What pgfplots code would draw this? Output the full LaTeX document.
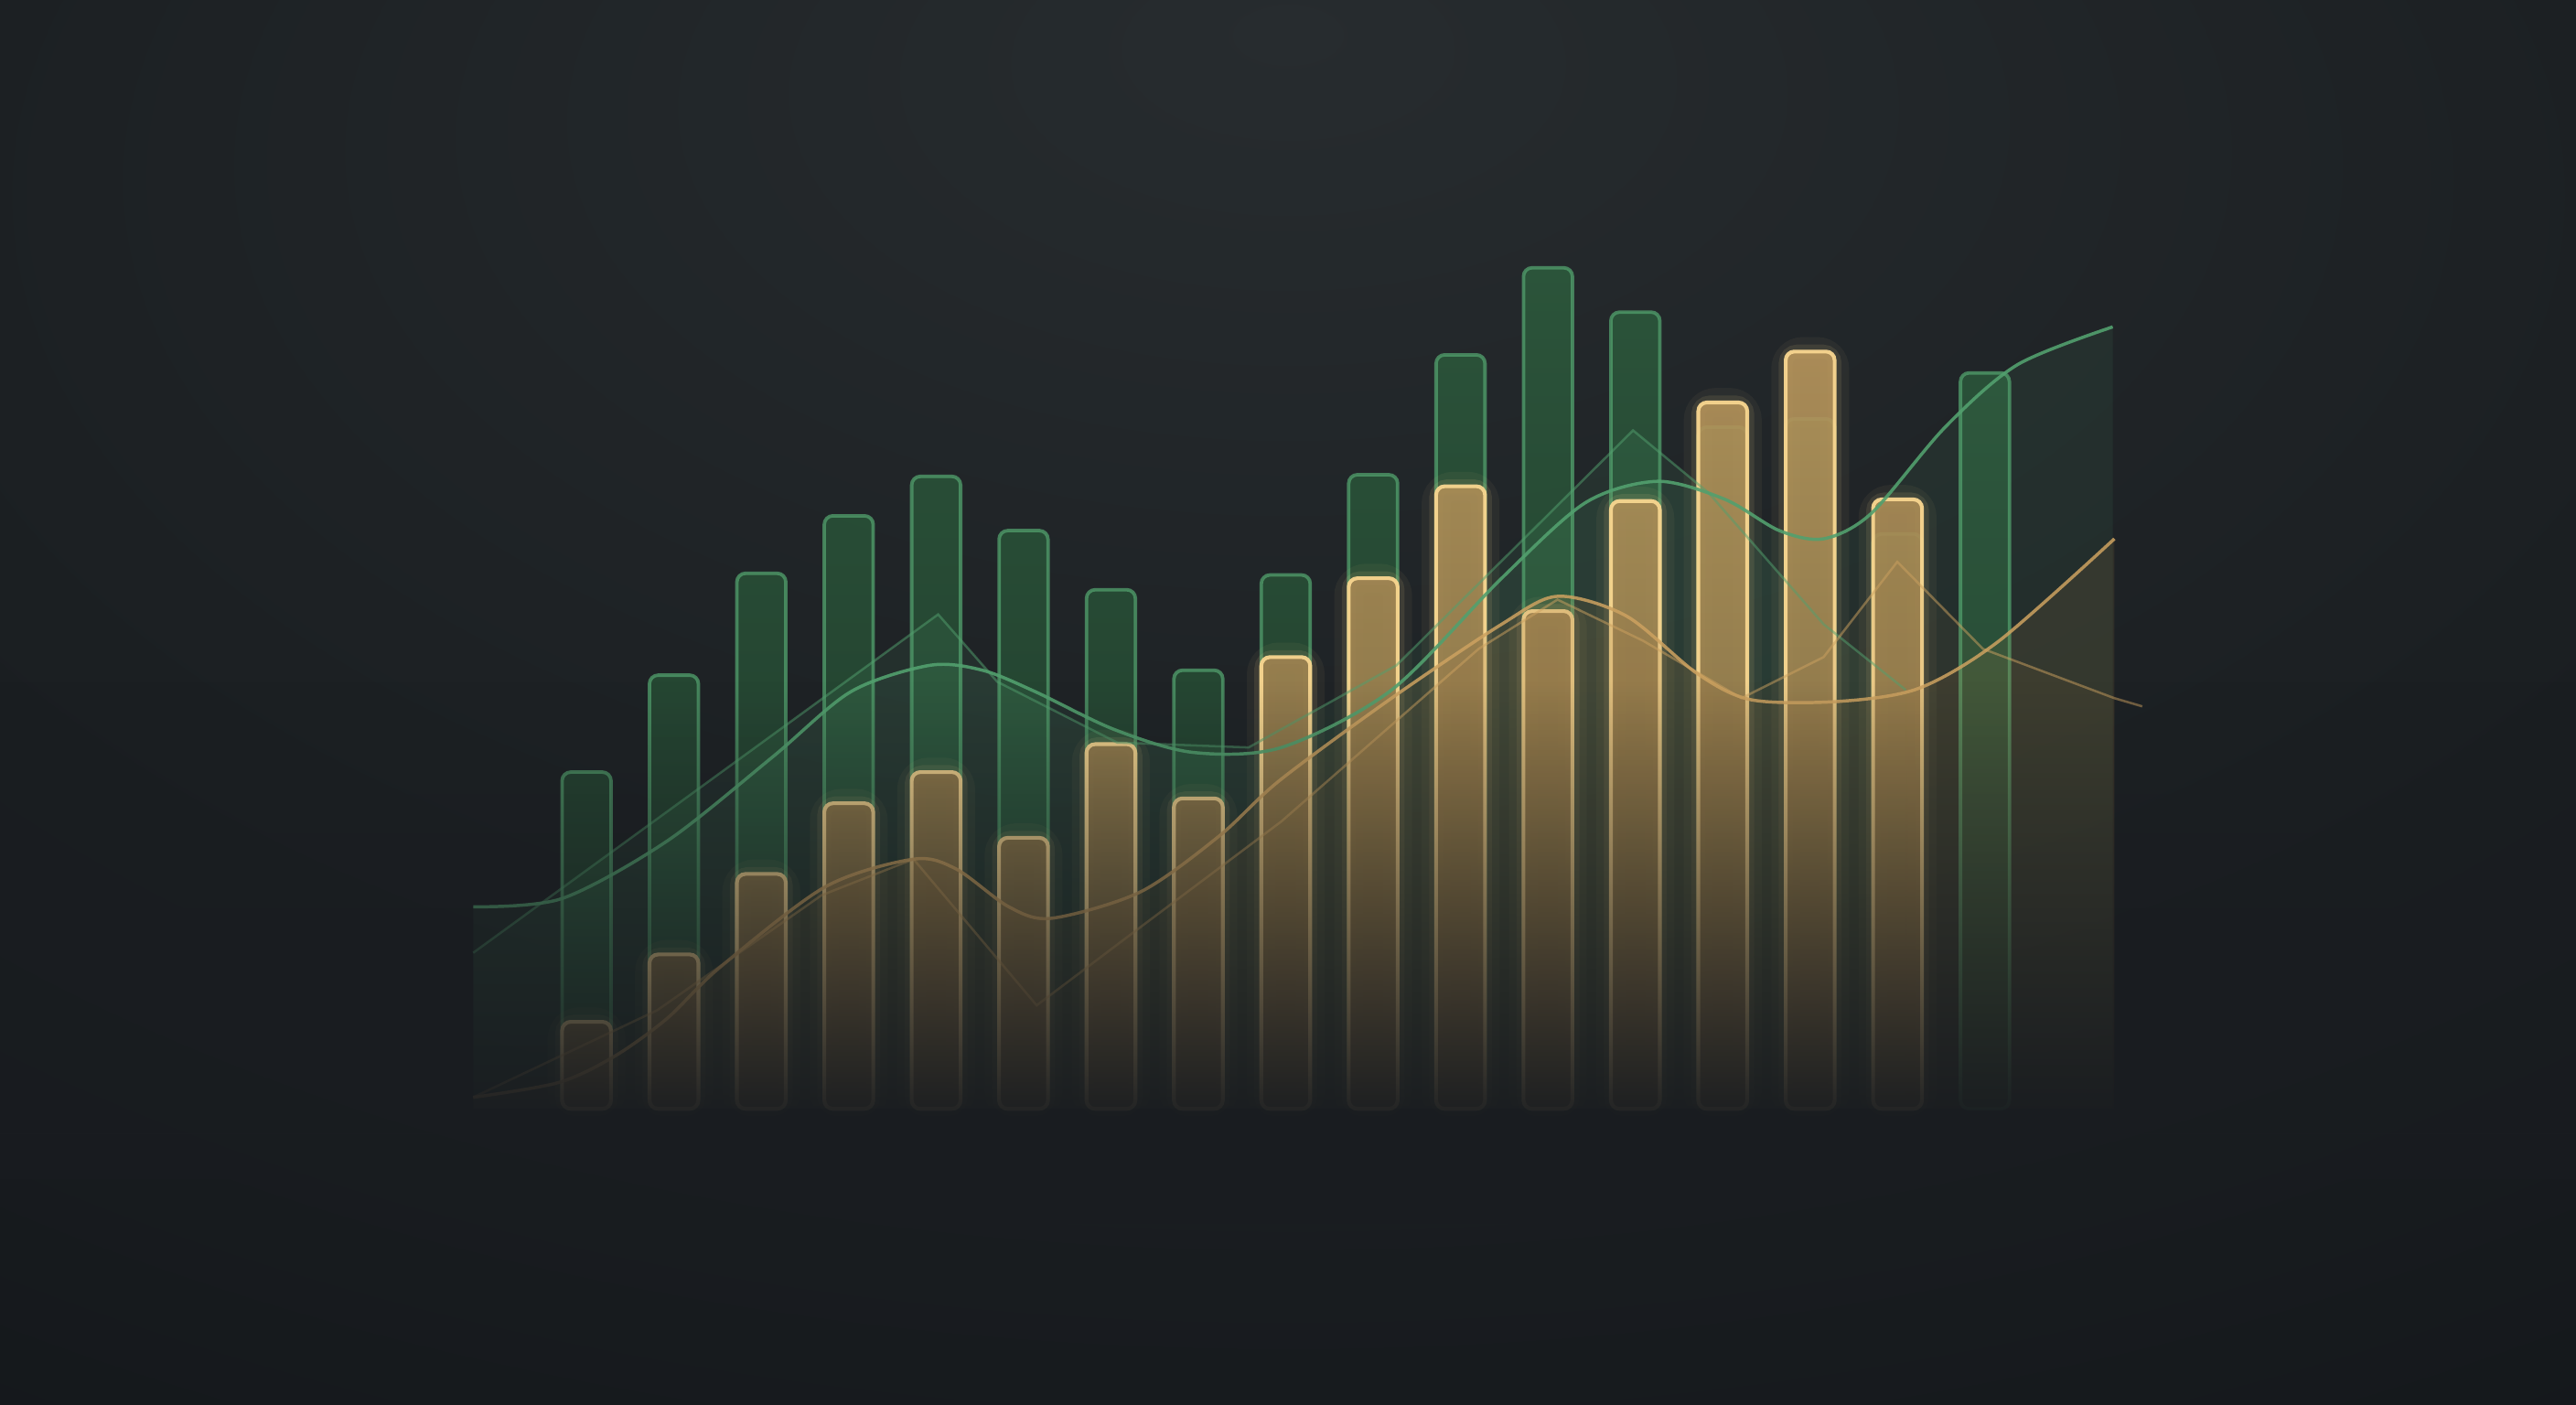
\documentclass[border=0pt]{standalone}
\usepackage{pgfplots}
\usepackage{pgfplotstable}
\pgfplotsset{compat=1.18}
\usetikzlibrary{fadings}
\definecolor{bgc}{HTML}{272C2F}
\definecolor{bgm}{HTML}{1B1F22}
\definecolor{bge}{HTML}{0F1216}
\definecolor{fogc}{HTML}{191C20}
\definecolor{greenfill}{HTML}{2D5C3D}
\definecolor{greenedge}{HTML}{52A06D}
\definecolor{greenline}{HTML}{52A06E}
\definecolor{goldfill}{HTML}{B8965C}
\definecolor{goldedge}{HTML}{F8D690}
\definecolor{goldline}{HTML}{CDA260}
\definecolor{goldarea}{HTML}{9C7744}
\pgfdeclareradialshading{bgshade}{\pgfpoint{0bp}{24bp}}{color(0bp)=(bgc); color(28bp)=(bgm); color(62bp)=(bge); color(100bp)=(bge)}
\tikzfading[name=fogfade, top color=transparent!100, bottom color=transparent!0]
\tikzfading[name=fogfade2, top color=transparent!0, bottom color=transparent!100]

\pgfplotstableread{
i v
0 41.0
1 52.8
2 65.2
3 72.2
4 77.0
5 70.4
6 63.2
7 53.4
8 65.0
9 77.2
10 91.8
11 102.4
12 97.0
13 83.0
14 84.0
15 70.0
16 89.6
}\greendata

\pgfplotstableread{
i v
0 10.6
1 18.8
2 28.6
3 37.2
4 41.0
5 33.0
6 44.4
7 37.8
8 55.0
9 64.6
10 75.8
11 60.6
12 74.0
13 86.0
14 92.2
15 74.2
}\golddata

\begin{document}
\begin{tikzpicture}
\begin{axis}[
  scale only axis, width=15.68cm, height=8.55cm,
  xmin=-6.711, xmax=22.763, ymin=-36, ymax=135,
  axis line style={draw=none}, xtick=\empty, ytick=\empty,
  axis background/.style={shade, shading=bgshade},
  clip=true,
]
% green bars
\addplot[ybar, bar width=0.56, bar shift=0pt, draw=greenedge, draw opacity=0.75, line width=0.6pt,
  top color=greenfill, bottom color=greenfill!60!bge, fill opacity=0.85, rounded corners=1.5pt]
  table[x=i, y=v] {\greendata};
% green areas
\addplot[draw=none, fill=greenline, fill opacity=0.10, smooth] coordinates {
(-1.297,24.6) (-0.282,25.6) (0.921,32.6) (2.124,42.8) (3.026,50.8) (3.929,54) (4.530,53.4) (5.132,50.8) (6.034,46.2) (6.936,43.4) (7.951,44) (9.211,51) (10.470,64.6) (11.429,73.8) (12.256,76.4) (13.026,74.2) (13.647,70.4) (14.154,69.4) (14.700,72.5) (15.545,83) (16.372,90.6) (17.462,95.2)
} \closedcycle;
\addplot[draw=none, fill=greenline, fill opacity=0.11] coordinates {
(-1.297,19) (4.023,60.2) (4.699,52) (6.071,44.6) (7.575,44) (9.267,54) (11.974,82.6) (12.838,75) (14.154,59) (15.094,51)
} \closedcycle;
% gold bar glow
\addplot[ybar, bar width=0.56, bar shift=0pt, draw=goldedge, draw opacity=0.05, line width=5pt, fill=none, rounded corners=3pt]
  table[x=i, y=v] {\golddata};
\addplot[ybar, bar width=0.56, bar shift=0pt, draw=goldedge, draw opacity=0.10, line width=2.4pt, fill=none, rounded corners=2pt]
  table[x=i, y=v] {\golddata};
% gold bars
\addplot[ybar, bar width=0.56, bar shift=0pt, draw=goldedge, draw opacity=0.95, line width=0.65pt,
  top color=goldfill, bottom color=goldfill!70!black, fill opacity=0.9, rounded corners=1.5pt]
  table[x=i, y=v] {\golddata};
% gold areas
\addplot[draw=none, fill=goldarea, fill opacity=0.15, smooth] coordinates {
(-1.297,1.4) (-0.320,3.2) (0.320,6.4) (0.921,11) (1.523,17.2) (2.726,27) (3.741,30.4) (4.229,29.2) (4.831,24.6) (5.320,23.2) (6.335,26.4) (7.237,33.2) (7.932,40) (9.211,50) (10.470,59) (11.109,62.4) (11.898,60) (12.707,53) (13.327,49.8) (14.323,49.6) (15.244,51.2) (16.165,57) (17.481,69.4)
} \closedcycle;
\addplot[draw=none, fill=goldarea, fill opacity=0.09] coordinates {
(-1.297,1.4) (0.808,12) (2.688,26) (3.741,30.4) (5.150,12.6) (6.447,23) (7.951,35) (10.207,56) (11.109,62) (12.086,57) (13.214,50) (14.154,55) (14.997,66.6) (15.977,56) (17.481,50)
} \closedcycle;
% lines
\addplot[greenline, line width=0.55pt, opacity=0.9, smooth] coordinates {
(-1.297,24.6) (-0.282,25.6) (0.921,32.6) (2.124,42.8) (3.026,50.8) (3.929,54) (4.530,53.4) (5.132,50.8) (6.034,46.2) (6.936,43.4) (7.951,44) (9.211,51) (10.470,64.6) (11.429,73.8) (12.256,76.4) (13.026,74.2) (13.647,70.4) (14.154,69.4) (14.700,72.5) (15.545,83) (16.372,90.6) (17.462,95.2)
};
\addplot[greenline, line width=0.4pt, opacity=0.5] coordinates {
(-1.297,19) (4.023,60.2) (4.699,52) (6.071,44.6) (7.575,44) (9.267,54) (11.974,82.6) (12.838,75) (14.154,59) (15.094,51)
};
\addplot[goldline, line width=0.55pt, opacity=0.85, smooth] coordinates {
(-1.297,1.4) (-0.320,3.2) (0.320,6.4) (0.921,11) (1.523,17.2) (2.726,27) (3.741,30.4) (4.229,29.2) (4.831,24.6) (5.320,23.2) (6.335,26.4) (7.237,33.2) (7.932,40) (9.211,50) (10.470,59) (11.109,62.4) (11.898,60) (12.707,53) (13.327,49.8) (14.323,49.6) (15.244,51.2) (16.165,57) (17.481,69.4)
};
\addplot[goldline, line width=0.4pt, opacity=0.5] coordinates {
(-1.297,1.4) (0.808,12) (2.688,26) (3.741,30.4) (5.150,12.6) (6.447,23) (7.951,35) (10.207,56) (11.109,62) (12.086,57) (13.214,50) (14.154,55) (14.997,66.6) (15.977,56) (17.481,50) (17.8,49)
};
% fade toward the bottom
\fill[fogc, path fading=fogfade] (axis cs:-6.711,-3) rectangle (axis cs:22.763,52);
\fill[fogc, path fading=fogfade2] (axis cs:-6.711,-14) rectangle (axis cs:22.763,-3);
\end{axis}
\end{tikzpicture}
\end{document}
